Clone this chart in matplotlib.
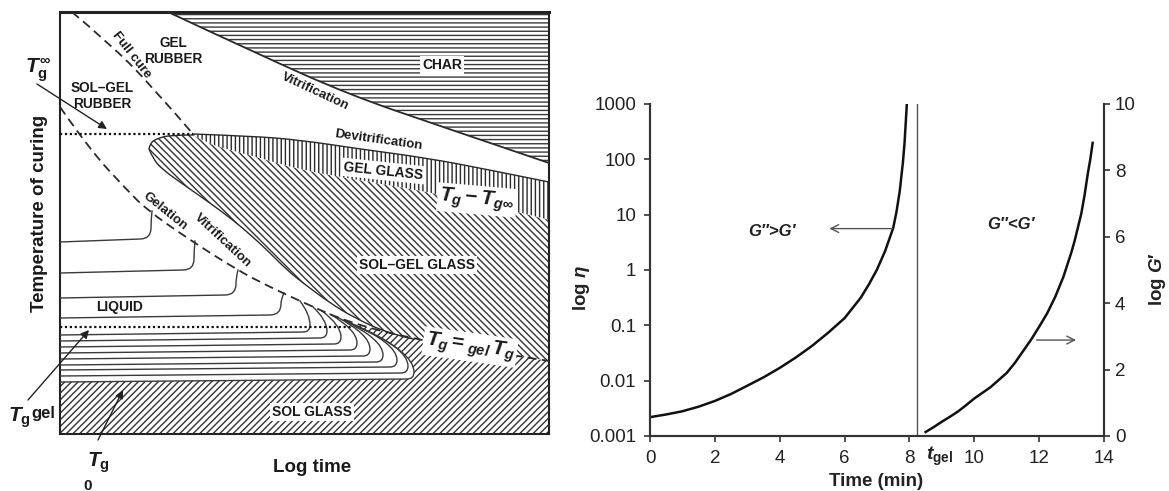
import numpy as np
import matplotlib
matplotlib.use("Agg")
import matplotlib.pyplot as plt
from matplotlib.path import Path
from matplotlib.patches import Polygon

plt.rcParams['font.family'] = ['Liberation Sans', 'DejaVu Sans']
plt.rcParams['mathtext.fontset'] = 'custom'
plt.rcParams['mathtext.rm'] = 'Liberation Sans:bold'
plt.rcParams['mathtext.it'] = 'Liberation Sans:italic:bold'
plt.rcParams['mathtext.bf'] = 'Liberation Sans:bold'
plt.rcParams['hatch.linewidth'] = 1.0
plt.rcParams['hatch.color'] = '#2a2a2a'

# ---------------- right panel data ----------------
eta_time = [0, 0.5, 1, 1.5, 2, 2.5, 3, 3.5, 4, 4.5, 5, 5.5, 6, 6.5, 6.75, 7,
            7.25, 7.5, 7.6, 7.7, 7.8, 7.85, 7.88, 7.92]
eta_vals = [0.00219, 0.00245, 0.0028, 0.00339, 0.0043, 0.00575, 0.0081, 0.01148,
            0.017, 0.0263, 0.0427, 0.074, 0.135, 0.316, 0.55, 1.02,
            2.2, 5.75, 11.2, 26.3, 89, 200, 398, 1000]
gp_time = [8.5, 8.75, 9, 9.25, 9.5, 9.75, 10, 10.5, 11, 11.25, 11.5, 11.75, 12,
           12.25, 12.5, 12.75, 13, 13.1, 13.2, 13.3, 13.4, 13.5, 13.58, 13.65]
gp_vals = [0.12, 0.27, 0.43, 0.58, 0.74, 0.93, 1.13, 1.47, 1.9, 2.2, 2.55, 2.9, 3.29,
           3.7, 4.2, 4.8, 5.55, 5.9, 6.3, 6.7, 7.25, 7.9, 8.35, 8.83]
t_gel = 8.24
x_ticks = [0, 2, 4, 6, 8, 10, 12, 14]
eta_ticks = [0.001, 0.01, 0.1, 1, 10, 100, 1000]
eta_tick_labels = ['0.001', '0.01', '0.1', '1', '10', '100', '1000']
gp_ticks = [0, 2, 4, 6, 8, 10]

# ---------------- left panel (schematic TTT diagram) ----------------
# x: log time (arbitrary units), y: temperature axis (arbitrary units, inverted)
char_x = [168, 260, 350, 440, 549]
char_y = [12, 55, 95, 126, 163]
devit_x = [193, 250, 300, 360, 427, 490, 549]
devit_y = [134, 136, 140, 149, 158, 170, 182]
gelglass_bot_x = [193, 207, 225, 260, 300, 370, 427, 490, 549]
gelglass_bot_y = [135, 143, 149, 158, 170, 182, 192, 205, 220]
nose_x = [193, 172, 158, 150, 149]
nose_y = [135, 135, 138, 143, 149]
vitr_x = [149, 153, 163, 187, 210, 233, 253, 270, 287, 303, 330, 353, 387, 413]
vitr_y = [149, 159, 170, 187, 203, 220, 237, 253, 270, 283, 303, 317, 333, 339]
gel_x = [60, 90, 127, 147, 187, 237, 270, 300, 347, 413, 480, 549]
gel_y = [107, 150, 190, 210, 238, 270, 287, 301, 322, 339, 350, 361]
cure_x = [72, 110, 150, 193]
cure_y = [12, 44, 84, 134]
tg_inf_level = 134
tg_gel_level = 327
liq_y = [242, 273, 298, 318, 335, 341, 347, 353, 359, 365, 370, 376, 382]
liq_nose = [151, 194, 236, 281, 310, 327, 341, 357, 370, 383, 397, 408, 414]
liq_end_x = [152, 195, 238, 284, 300, 312, 322, 330, 337, 343, 348, 352, 356]
liq_end_y = [211, 241, 270, 293, 301, 306, 311, 314, 317, 320, 322, 324, 326]

X0, X1, Y0, Y1 = 60, 549, 12, 434
W, H = 1169, 491


def smooth(xs, ys):
    pts = np.column_stack([xs, ys]).astype(float)
    if len(pts) < 3:
        return pts
    verts = [pts[0]]
    codes = [Path.MOVETO]
    for i in range(1, len(pts) - 1):
        end = pts[i + 1] if i == len(pts) - 2 else (pts[i] + pts[i + 1]) / 2
        verts += [pts[i], end]
        codes += [Path.CURVE3, Path.CURVE3]
    return Path(verts, codes).to_polygons(closed_only=False)[0]


def liquid(yl, xn, xe, ye, r):
    yr = yl - 3
    yn = yr - r
    verts = [(X0, yl), (xn - r, yr), (xn, yr), (xn, yn),
             (xn, yn - 0.45 * (yn - ye)), (xe, ye)]
    codes = [Path.MOVETO, Path.LINETO, Path.CURVE3, Path.CURVE3,
             Path.CURVE3, Path.CURVE3]
    return Path(verts, codes).to_polygons(closed_only=False)[0]


fig = plt.figure(figsize=(W / 100, H / 100), dpi=100)
ax = fig.add_axes([X0 / W, 1 - Y1 / H, (X1 - X0) / W, (Y1 - Y0) / H])
ax.set_xlim(X0, X1)
ax.set_ylim(Y1, Y0)
ax.set_xticks([])
ax.set_yticks([])
for s in ax.spines.values():
    s.set_linewidth(1.5)
    s.set_color('#222222')
ax.spines['top'].set_linewidth(2.2)

ink = '#2a2a2a'

# CHAR region
cb = smooth(char_x, char_y)
char_poly = np.vstack([cb, [[X1, Y0]]])
ax.add_patch(Polygon(char_poly, closed=True, facecolor='white', edgecolor='#3a3a3a',
                     hatch='----', linewidth=0, zorder=1))
ax.plot(cb[:, 0], cb[:, 1], color=ink, lw=1.3, zorder=3)

# gel glass (vertical hatch)
dv = smooth(devit_x, devit_y)
gb = smooth(gelglass_bot_x, gelglass_bot_y)
gg_poly = np.vstack([dv, gb[::-1]])
ax.add_patch(Polygon(gg_poly, closed=True, facecolor='white', edgecolor='#2a2a2a',
                     hatch='||||', linewidth=0, zorder=1))
ax.plot(dv[:, 0], dv[:, 1], color=ink, lw=1.0, zorder=3)

# sol-gel glass (backslash hatch)
gl = smooth(gel_x, gel_y)
nose = smooth(nose_x, nose_y)
vit = smooth(vitr_x, vitr_y)
gl_right = gl[gl[:, 0] >= vitr_x[-1]]
sg_poly = np.vstack([nose, vit, gl_right, [[X1, gelglass_bot_y[-1]]], gb[::-1]])
ax.add_patch(Polygon(sg_poly, closed=True, facecolor='white', edgecolor='#333333',
                     hatch='\\' * 5, linewidth=0, zorder=1))
ax.plot(np.r_[nose[:, 0], vit[:, 0]], np.r_[nose[:, 1], vit[:, 1]],
        color=ink, lw=1.0, zorder=3)

# liquid iso-curves
curves = []
for i, (yl, xn, xe, ye) in enumerate(zip(liq_y, liq_nose, liq_end_x, liq_end_y)):
    c = liquid(yl, xn, xe, ye, 11 if i < 4 else 7)
    curves.append(c)
    ax.plot(c[:, 0], c[:, 1], color='#3a3a3a', lw=1.0, zorder=3)

# sol glass (slash hatch) incl. wedge right of the curves
low = curves[-1]
gl_seg = gl[gl[:, 0] >= liq_end_x[-1]]
sol_poly = np.vstack([[[X0, Y1], [X1, Y1]], gl_seg[::-1], low[::-1]])
ax.add_patch(Polygon(sol_poly, closed=True, facecolor='white', edgecolor='#333333',
                     hatch='/////', linewidth=0, zorder=1))

# dashed lines
ax.plot(gl[:, 0], gl[:, 1], color=ink, lw=1.3, ls=(0, (5, 3)), zorder=4)
fc = smooth(cure_x, cure_y)
ax.plot(fc[:, 0], fc[:, 1], color=ink, lw=1.3, ls=(0, (5, 3)), zorder=4)

# dotted levels
ax.plot([X0, cure_x[-1]], [tg_inf_level, tg_inf_level], color='#111111', lw=1.6,
        ls=(0, (1, 1.2)), zorder=4)
ax.plot([X0, 352], [tg_gel_level, tg_gel_level], color='#111111', lw=1.6,
        ls=(0, (1, 1.2)), zorder=4)

box = dict(facecolor='white', edgecolor='none', pad=1.5)
tk = dict(color='#1a1a1a', fontweight='bold', ha='center', va='center', zorder=6)
ax.text(173, 51, 'GEL\nRUBBER', fontsize=9.8, linespacing=1.1, **tk)
ax.text(102, 96, 'SOL–GEL\nRUBBER', fontsize=9.8, linespacing=1.1, **tk)
ax.text(131, 55, 'Full cure', fontsize=9.5, rotation=-52, **tk)
ax.text(442, 65, 'CHAR', fontsize=10, bbox=box, **tk)
ax.text(315, 92, 'Vitrification', fontsize=9.5, rotation=-25, **tk)
ax.text(378, 140, 'Devitrification', fontsize=9.5, rotation=-8, **tk)
ax.text(383, 171, 'GEL GLASS', fontsize=10, rotation=-6, bbox=box, **tk)
ax.text(477, 200, r'$T_g - T_{g\infty}$', fontsize=15, rotation=-5, bbox=box, **tk)
ax.text(417, 265, 'SOL–GEL GLASS', fontsize=10, bbox=box, **tk)
ax.text(120, 307, 'LIQUID', fontsize=10, **tk)
ax.text(312, 412, 'SOL GLASS', fontsize=10, bbox=box, **tk)
ax.text(470, 347, r'$T_g = {}_{gel}\,T_g$', fontsize=15, rotation=-8, bbox=box, **tk)
ax.text(165, 211, 'Gelation', fontsize=9.5, rotation=-39, **tk)
ax.text(223, 241, 'Vitrification', fontsize=9.5, rotation=-43, **tk)

# labels outside the box
ax.text(38, 70, r'$T_{\mathrm{g}}^{\infty}$', fontsize=15, clip_on=False, **tk)
ax.text(19, 418, r'$T_{\mathrm{g}}$', fontsize=15, clip_on=False, **tk)
ax.text(43, 414, 'gel', fontsize=12, clip_on=False, **tk)
ax.text(98, 463, r'$T_{\mathrm{g}}$', fontsize=15, clip_on=False, **tk)
ax.text(88, 486, '0', fontsize=11, clip_on=False, **tk)
ax.text(40, 213, 'Temperature of curing', fontsize=13.5, rotation=90, clip_on=False, **tk)
ax.text(312, 468, 'Log time', fontsize=13.5, clip_on=False, **tk)

ap = dict(arrowstyle='-|>', color='#222222', lw=1.0, mutation_scale=12, shrinkA=0, shrinkB=0)
ax.annotate('', xy=(107, 129), xytext=(37, 84), arrowprops=ap, annotation_clip=False, zorder=6)
ax.annotate('', xy=(89, 330), xytext=(28, 400), arrowprops=ap, annotation_clip=False, zorder=6)
ax.annotate('', xy=(123, 390), xytext=(98, 440), arrowprops=ap, annotation_clip=False, zorder=6)

# ---------------- right panel ----------------
R0, R1, RT, RB = 650, 1104, 104, 436
ax2 = fig.add_axes([R0 / W, 1 - RB / H, (R1 - R0) / W, (RB - RT) / H])
ax2.set_xlim(0, 14)
ax2.set_yscale('log')
ax2.set_ylim(0.001, 1000)
ax2.plot(eta_time, eta_vals, color='#111111', lw=1.8, zorder=3)
ax2.axvline(t_gel, color='#555555', lw=1.0)
ax2.set_xticks(x_ticks)
ax2.set_xticklabels([str(v) for v in x_ticks])
ax2.set_yticks(eta_ticks)
ax2.set_yticklabels(eta_tick_labels)
ax2.minorticks_off()
ax2.tick_params(direction='out', length=4, width=1.2, labelsize=13.5,
                colors='#333333', labelcolor='#222222', pad=6)
ax2.spines['top'].set_visible(False)
for s in ['left', 'bottom', 'right']:
    ax2.spines[s].set_linewidth(1.5)
    ax2.spines[s].set_color('#333333')

ax3 = ax2.twinx()
ax3.set_ylim(0, 10)
ax3.plot(gp_time, gp_vals, color='#111111', lw=1.8, zorder=3)
ax3.set_yticks(gp_ticks)
ax3.set_yticklabels([str(v) for v in gp_ticks])
ax3.tick_params(direction='out', length=4, width=1.2, labelsize=13.5,
                colors='#333333', labelcolor='#222222', pad=4)
ax3.spines['top'].set_visible(False)
for s in ['left', 'bottom', 'right']:
    ax3.spines[s].set_linewidth(1.5)
    ax3.spines[s].set_color('#333333')

arr = dict(arrowstyle='->', color='#555555', lw=1.0, mutation_scale=14, shrinkA=0, shrinkB=0)
ax2.annotate('', xy=(5.53, 5.6), xytext=(7.47, 5.6), arrowprops=arr)
ax3.annotate('', xy=(13.14, 2.89), xytext=(11.92, 2.89), arrowprops=arr)
ax2.text(3.75, 4.9, 'G″>G′', fontsize=12, fontstyle='italic', fontweight='bold',
         ha='center', va='center', color='#222222')
ax3.text(11.13, 6.36, 'G″<G′', fontsize=12, fontstyle='italic', fontweight='bold',
         ha='center', va='center', color='#222222')
ax2.text(8.92, -0.062, r'$t_{\mathrm{gel}}$', fontsize=14, ha='center', va='center',
         color='#222222', transform=ax2.get_xaxis_transform())

fig.text(582 / W, 1 - 288 / H, r'log $\eta$', fontsize=13.5, fontweight='bold',
         rotation=90, ha='center', va='center', color='#222222')
fig.text(1158 / W, 1 - 279 / H, r'log $G\prime$', fontsize=13.5, fontweight='bold',
         rotation=90, ha='center', va='center', color='#222222')
fig.text(876 / W, 1 - 482 / H, 'Time (min)', fontsize=13.5, fontweight='bold',
         ha='center', va='center', color='#222222')

fig.savefig('out.png', dpi=100, facecolor='white')
